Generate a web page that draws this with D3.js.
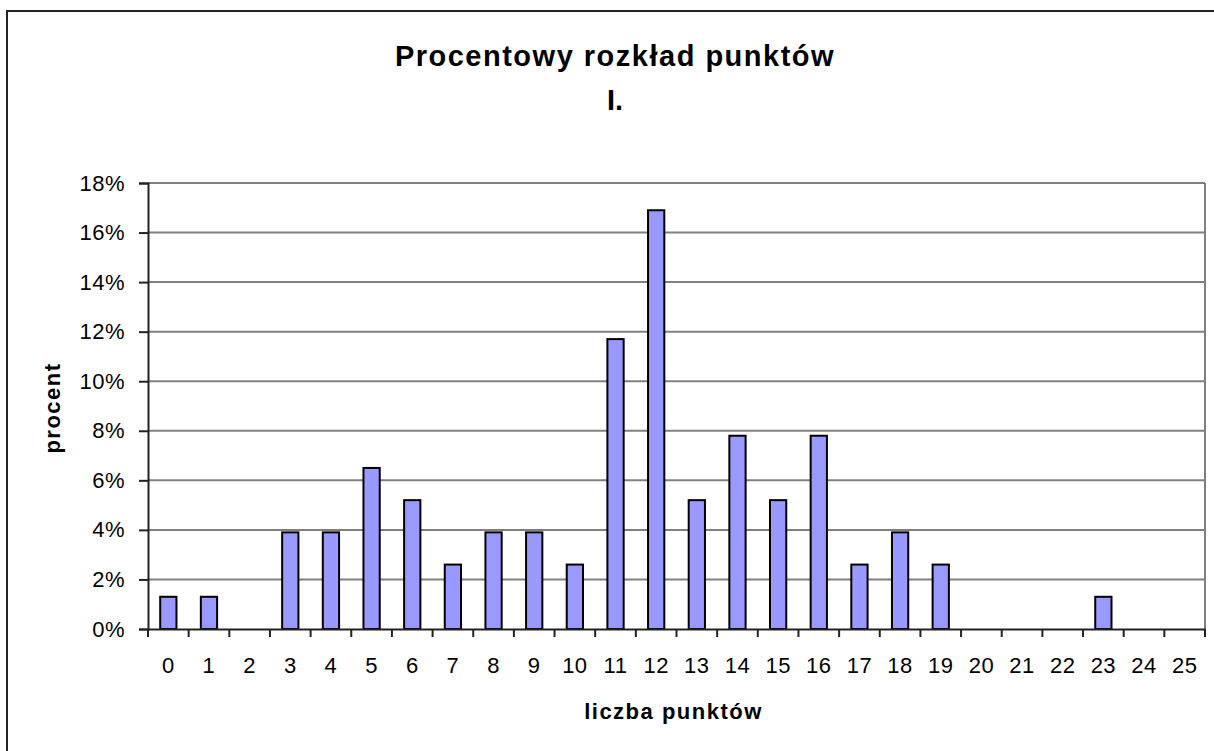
<!doctype html>
<html lang="pl">
<head>
<meta charset="utf-8">
<title>Procentowy rozkład punktów</title>
<script src="https://cdn.jsdelivr.net/npm/d3@7"></script>
<style>
  body { margin: 0; background: #fff; }
  svg { display: block; font-family: "Liberation Sans", Arial, sans-serif; }
</style>
</head>
<body>
<script>
// dane
var categories = d3.range(0, 26).map(String);
var percents = [1.3, 1.3, 0, 3.9, 3.9, 6.5, 5.2, 2.6, 3.9, 3.9, 2.6, 11.7, 16.9,
                5.2, 7.8, 5.2, 7.8, 2.6, 3.9, 2.6, 0, 0, 0, 1.3, 0, 0];
var yTicks = [0, 2, 4, 6, 8, 10, 12, 14, 16, 18];
var title = ["Procentowy rozkład punktów", "I."];
var xTitle = "liczba punktów";
var yTitle = "procent";

var W = 1214, H = 751;
var plot = {left: 148, right: 1205, top: 183, bottom: 629};

var svg = d3.select("body").append("svg")
    .attr("width", W)
    .attr("height", H);

// ramka wykresu
svg.append("rect")
   .attr("x", 7).attr("y", 11)
   .attr("width", W + 20).attr("height", H + 20)
   .attr("fill", "#fff")
   .attr("stroke", "#222")
   .attr("stroke-width", 2);

var xScale = d3.scaleBand()
               .domain(categories)
               .range([plot.left, plot.right]);

var yScale = d3.scaleLinear()
               .domain([0, 18])
               .range([plot.bottom, plot.top]);

var barW = xScale.bandwidth() / 2.5;

// linie siatki
svg.append("g")
   .selectAll("line")
   .data(yTicks.slice(1))
   .enter()
   .append("line")
   .attr("x1", plot.left)
   .attr("x2", plot.right)
   .attr("y1", d => yScale(d))
   .attr("y2", d => yScale(d))
   .attr("stroke", "#808080")
   .attr("stroke-width", 2);

// prawa krawedz
svg.append("line")
   .attr("x1", plot.right).attr("x2", plot.right)
   .attr("y1", plot.top).attr("y2", plot.bottom)
   .attr("stroke", "#808080")
   .attr("stroke-width", 2);

// slupki
svg.append("g")
   .selectAll("rect")
   .data(categories.map((c, i) => ({c: c, v: percents[i]})).filter(d => d.v > 0))
   .enter()
   .append("rect")
   .attr("x", d => xScale(d.c) + xScale.bandwidth() / 2 - barW / 2)
   .attr("width", barW)
   .attr("y", d => yScale(d.v))
   .attr("height", d => yScale(0) - yScale(d.v))
   .attr("fill", "#9999ff")
   .attr("stroke", "#000")
   .attr("stroke-width", 2);

// os Y
var yAxis = d3.axisLeft(yScale)
              .tickValues(yTicks)
              .tickSize(9)
              .tickPadding(14)
              .tickFormat(d => d + "%");
var gy = svg.append("g")
            .attr("transform", "translate(" + plot.left + ",0)")
            .call(yAxis);
gy.select(".domain").attr("stroke", "#222").attr("stroke-width", 2);
gy.selectAll(".tick line").attr("stroke", "#222").attr("stroke-width", 2);
gy.selectAll("text")
  .attr("font-size", "22px")
  .attr("letter-spacing", "0.5px")
  .attr("fill", "#000");

// os X
var xAxis = d3.axisBottom(xScale)
              .tickSize(0)
              .tickPadding(28);
var gx = svg.append("g")
            .attr("transform", "translate(0," + plot.bottom + ")")
            .call(xAxis);
gx.select(".domain").attr("stroke", "#222").attr("stroke-width", 2);
gx.selectAll("text")
  .attr("font-size", "22px")
  .attr("letter-spacing", "0.5px")
  .attr("fill", "#000");

// kreski podzialki miedzy kategoriami
svg.append("g")
   .selectAll("line")
   .data(categories.concat(["end"]))
   .enter()
   .append("line")
   .attr("x1", (d, i) => plot.left + i * xScale.step())
   .attr("x2", (d, i) => plot.left + i * xScale.step())
   .attr("y1", plot.bottom)
   .attr("y2", plot.bottom + 8)
   .attr("stroke", "#222")
   .attr("stroke-width", 2);

// tytul
svg.append("text")
   .attr("x", 615).attr("y", 66)
   .attr("text-anchor", "middle")
   .attr("font-size", "29px")
   .attr("font-weight", "bold")
   .attr("letter-spacing", "1.5px")
   .text(title[0]);
svg.append("text")
   .attr("x", 615).attr("y", 110)
   .attr("text-anchor", "middle")
   .attr("font-size", "29px")
   .attr("font-weight", "bold")
   .text(title[1]);

// tytuly osi
svg.append("text")
   .attr("x", (plot.left + plot.right) / 2 - 3).attr("y", 719)
   .attr("text-anchor", "middle")
   .attr("font-size", "22px")
   .attr("font-weight", "bold")
   .attr("letter-spacing", "1.5px")
   .text(xTitle);

svg.append("text")
   .attr("transform", "translate(60,408) rotate(-90)")
   .attr("text-anchor", "middle")
   .attr("font-size", "22px")
   .attr("font-weight", "bold")
   .attr("letter-spacing", "1.5px")
   .text(yTitle);
</script>
</body>
</html>
